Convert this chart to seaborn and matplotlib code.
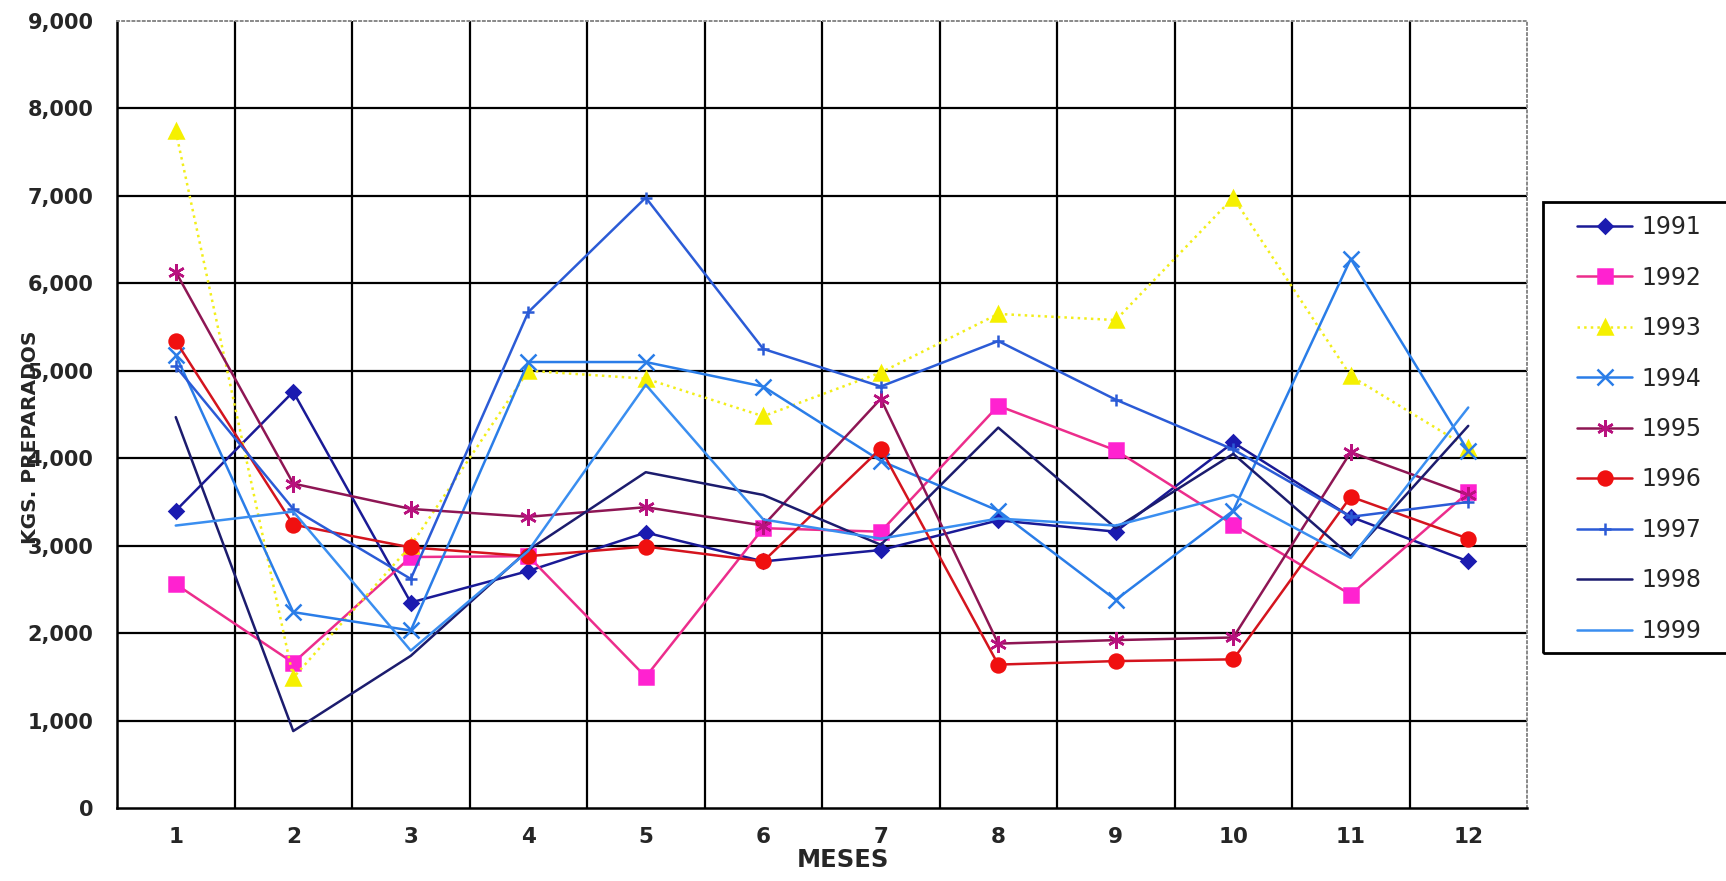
import numpy as np
import pandas as pd
import matplotlib
matplotlib.use("Agg")
import matplotlib.pyplot as plt
import matplotlib.ticker as mticker
from matplotlib.patches import Rectangle
import seaborn as sns

# ---------------- data ----------------
meses = [1, 2, 3, 4, 5, 6, 7, 8, 9, 10, 11, 12]
anios = ["1991", "1992", "1993", "1994", "1995", "1996", "1997", "1998", "1999"]

kg_1991 = [3400, 4760, 2350, 2710, 3150, 2820, 2950, 3290, 3160, 4180, 3330, 2820]
kg_1992 = [2560, 1660, 2870, 2880, 1500, 3200, 3160, 4600, 4090, 3240, 2440, 3610]
kg_1993 = [7740, 1490, 3000, 5000, 4910, 4480, 4980, 5650, 5580, 6980, 4940, 4120]
kg_1994 = [5180, 2240, 2030, 5100, 5100, 4820, 3970, 3400, 2380, 3400, 6280, 4080]
kg_1995 = [6130, 3710, 3420, 3330, 3440, 3230, 4680, 1880, 1920, 1950, 4070, 3580]
kg_1996 = [5340, 3240, 2980, 2880, 2990, 2820, 4110, 1640, 1680, 1700, 3560, 3080]
kg_1997 = [5050, 3420, 2620, 5670, 6980, 5250, 4820, 5340, 4670, 4100, 3330, 3500]
kg_1998 = [4470, 880, 1740, 2950, 3840, 3580, 3010, 4350, 3200, 4050, 2880, 4370]
kg_1999 = [3230, 3390, 1800, 2940, 4840, 3300, 3080, 3310, 3230, 3580, 2860, 4580]

y_ticks = [0, 1000, 2000, 3000, 4000, 5000, 6000, 7000, 8000, 9000]
x_label = "MESES"
y_label = "KGS. PREPARADOS"

series = [kg_1991, kg_1992, kg_1993, kg_1994, kg_1995, kg_1996, kg_1997, kg_1998, kg_1999]

# ---------------- styles ----------------
styles = {
    "1991": dict(color="#1A1A96", marker="D", ms=7.5, mfc="#1B1BB0", mec="#1B1BB0", ls="-", lw=1.8),
    "1992": dict(color="#EC2D8C", marker="s", ms=10, mfc="#FF22D0", mec="#FF22D0", ls="-", lw=1.8),
    "1993": dict(color="#F2EE1A", marker="^", ms=10, mfc="#F5F000", mec="#F5F000", ls=":", lw=1.8),
    "1994": dict(color="#2A7DE8", marker="x", ms=11, mfc="#2A7DE8", mec="#2A7DE8", ls="-", lw=1.8),
    "1995": dict(color="#8E1654", marker=(6, 2, 0), ms=12, mfc="#B8127E", mec="#B8127E", ls="-", lw=1.8),
    "1996": dict(color="#D4141E", marker="o", ms=10, mfc="#F01010", mec="#F01010", ls="-", lw=1.8),
    "1997": dict(color="#2B5BD6", marker="+", ms=9, mfc="#2B5BD6", mec="#2B5BD6", ls="-", lw=1.8),
    "1998": dict(color="#1C1C6E", marker=None, ms=0, mfc="none", mec="none", ls="-", lw=1.8),
    "1999": dict(color="#3A8EF0", marker=None, ms=0, mfc="none", mec="none", ls="-", lw=1.8),
}

sns.set_style("white")
plt.rcParams["font.family"] = ["DejaVu Sans"]

W, H = 1726, 881
fig = plt.figure(figsize=(W / 100, H / 100), dpi=100)
ax = fig.add_axes([117 / W, 73 / H, 1410 / W, 787 / H])

handles = []
for anio, vals in zip(anios, series):
    st = styles[anio]
    df = pd.DataFrame({"mes": meses, "kg": vals})
    kws = dict(color=st["color"], linestyle=st["ls"], linewidth=st["lw"])
    if st["marker"] is not None:
        kws.update(marker=st["marker"], markersize=st["ms"],
                   markerfacecolor=st["mfc"], markeredgecolor=st["mec"],
                   markeredgewidth=1.8)
    sns.lineplot(data=df, x="mes", y="kg", ax=ax, errorbar=None,
                 sort=False, label=anio, legend=False, **kws)
    handles.append(ax.lines[-1])

# axes limits and ticks
ax.set_xlim(0.5, 12.5)
ax.set_ylim(0, 9000)
ax.set_xticks(meses)
ax.set_xticklabels([str(m) for m in meses])
ax.set_xticks(np.arange(1.5, 12.0, 1.0), minor=True)
ax.set_yticks(y_ticks)
ax.yaxis.set_major_formatter(mticker.FuncFormatter(lambda v, p: f"{int(v):,}"))

ax.tick_params(axis="x", which="major", direction="in", length=3, width=1.2,
               color="black", pad=14, labelsize=15.5)
ax.tick_params(axis="x", which="minor", direction="out", length=6.5, width=1.6,
               color="black")
ax.tick_params(axis="y", which="major", direction="out", length=7, width=1.6,
               color="black", pad=10, labelsize=15)
for lab in ax.get_xticklabels() + ax.get_yticklabels():
    lab.set_fontweight("bold")

# grid: horizontal at thousands, vertical at month boundaries
for yv in y_ticks[1:-1]:
    ax.axhline(yv, color="black", lw=1.6, zorder=0.5)
for xv in np.arange(1.5, 12.0, 1.0):
    ax.axvline(xv, color="black", lw=1.6, zorder=0.5)

for side in ["left", "bottom"]:
    ax.spines[side].set_color("black")
    ax.spines[side].set_linewidth(1.8)
for side in ["top", "right"]:
    ax.spines[side].set_color("#888888")
    ax.spines[side].set_linewidth(1.4)
    ax.spines[side].set_linestyle(":")

ax.set_xlabel("")
ax.set_ylabel("")
fig.text(843 / W, 1 - 860 / H, x_label, ha="center", va="center",
         fontsize=17.5, fontweight="bold")
fig.text(30 / W, 1 - 437 / H, y_label, ha="center", va="center",
         rotation=90, fontsize=14.5, fontweight="bold")

# legend box (extends past the right edge, as in the reference)
fig.patches.append(Rectangle((1543 / W, 1 - 653 / H), 200 / W, 451 / H,
                             transform=fig.transFigure, fill=False,
                             edgecolor="black", linewidth=2.0))
leg = fig.legend(handles, anios, loc="center left",
                 bbox_to_anchor=(1577 / W, 1 - 429 / H),
                 frameon=False, fontsize=17, borderpad=0, borderaxespad=0,
                 handlelength=2.35, handletextpad=0.4, labelspacing=1.12)

fig.savefig("out.png", dpi=100)
